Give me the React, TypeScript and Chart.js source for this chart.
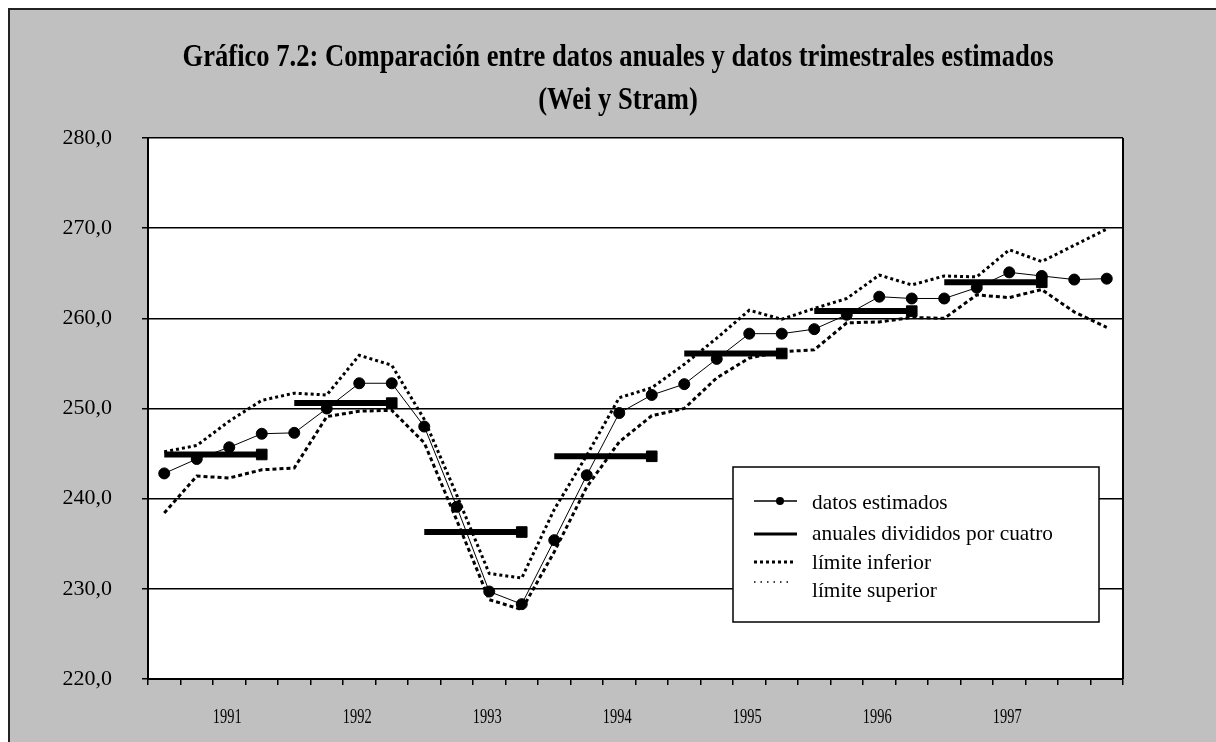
import { useEffect, useRef } from 'react';
import { Chart, registerables } from 'chart.js';

Chart.register(...registerables);

// ---- Data ----
const categories = [
  '1991-I', '1991-II', '1991-III', '1991-IV',
  '1992-I', '1992-II', '1992-III', '1992-IV',
  '1993-I', '1993-II', '1993-III', '1993-IV',
  '1994-I', '1994-II', '1994-III', '1994-IV',
  '1995-I', '1995-II', '1995-III', '1995-IV',
  '1996-I', '1996-II', '1996-III', '1996-IV',
  '1997-I', '1997-II', '1997-III', '1997-IV',
  '1998-I', '1998-II',
];

const yearTickLabels = ['1991', '1992', '1993', '1994', '1995', '1996', '1997'];

const estimated = [
  242.8, 244.4, 245.7, 247.2,
  247.3, 250.0, 252.8, 252.8,
  248.0, 239.1, 229.7, 228.3,
  235.4, 242.6, 249.5, 251.5,
  252.7, 255.5, 258.3, 258.3,
  258.8, 260.4, 262.4, 262.2,
  262.2, 263.4, 265.1, 264.7,
  264.3, 264.4,
];

const annualDividedByFour = [244.9, 250.6, 236.3, 244.7, 256.1, 260.8, 264.0];

const lowerLimit = [
  238.4, 242.5, 242.3, 243.2,
  243.4, 249.1, 249.7, 249.8,
  246.2, 237.6, 228.8, 227.7,
  234.1, 241.3, 246.3, 249.2,
  250.0, 253.4, 255.6, 256.3,
  256.5, 259.5, 259.6, 260.1,
  260.0, 262.6, 262.3, 263.2,
  260.7, 259.0,
];

const upperLimit = [
  245.2, 245.9, 248.6, 250.9,
  251.7, 251.5, 255.9, 254.8,
  248.8, 240.4, 231.7, 231.2,
  238.8, 244.8, 251.2, 252.3,
  254.9, 257.8, 260.9, 259.9,
  261.1, 262.2, 264.8, 263.7,
  264.7, 264.6, 267.6, 266.3,
  268.1, 269.9,
];

const titleLines = [
  'Gráfico 7.2: Comparación entre datos anuales y datos trimestrales estimados',
  '(Wei y Stram)',
];

const legendLabels = [
  'datos estimados',
  'anuales divididos por cuatro',
  'límite inferior',
  'límite superior',
];

const Y_MIN = 220;
const Y_MAX = 280;
const Y_STEP = 10;

const SERIF = '"Liberation Serif", "Times New Roman", serif';

const annualSeries = categories.map((_, i) => {
  const v = annualDividedByFour[Math.floor(i / 4)];
  return v === undefined ? null : v;
});

const yearLabelFor = (index: number) =>
  index % 4 === 2 ? (yearTickLabels[Math.floor(index / 4)] ?? '') : '';

const decorPlugin = {
  id: 'decor',
  beforeDraw(chart: any) {
    const { ctx, chartArea: a } = chart;
    ctx.save();
    ctx.fillStyle = '#c0c0c0';
    ctx.fillRect(0, 0, chart.width, chart.height);
    ctx.fillStyle = '#ffffff';
    ctx.fillRect(a.left, a.top, a.right - a.left, a.bottom - a.top);
    ctx.restore();
  },
  afterDraw(chart: any) {
    const { ctx, chartArea: a } = chart;
    ctx.save();
    // right border of plot
    ctx.strokeStyle = '#000';
    ctx.lineWidth = 2;
    ctx.beginPath();
    ctx.moveTo(a.right, a.top);
    ctx.lineTo(a.right, a.bottom);
    ctx.stroke();

    // x-axis year labels (condensed serif), placed via the category scale
    const xs = chart.scales.x;
    ctx.fillStyle = '#000';
    ctx.font = `20px ${SERIF}`;
    ctx.textAlign = 'center';
    ctx.textBaseline = 'middle';
    categories.forEach((_, i) => {
      const t = yearLabelFor(i);
      if (!t) return;
      const px = xs.getPixelForValue(i);
      ctx.save();
      ctx.translate(px - 2, a.bottom + 39);
      ctx.scale(0.72, 1);
      ctx.fillText(t, 0, 0);
      ctx.restore();
    });

    // title (condensed bold serif)
    ctx.font = `bold 31px ${SERIF}`;
    ctx.textAlign = 'center';
    ctx.textBaseline = 'alphabetic';
    const w1 = ctx.measureText(titleLines[0]).width;
    const sx = 871 / w1;
    const cx = 608;
    [56, 99].forEach((y, i) => {
      ctx.save();
      ctx.translate(cx, y);
      ctx.scale(sx, 1);
      ctx.fillText(titleLines[i], 0, 0);
      ctx.restore();
    });

    // legend box
    const bx = 723, by = 457, bw = 366, bh = 155;
    ctx.fillStyle = '#fff';
    ctx.fillRect(bx, by, bw, bh);
    ctx.strokeStyle = '#000';
    ctx.lineWidth = 1.5;
    ctx.strokeRect(bx, by, bw, bh);

    const sx0 = 744, sx1 = 787, tx = 802;
    const rows = [493, 524, 553, 581];
    const sampleY = [491, 524, 552, 572];

    ctx.lineWidth = 1.5;
    ctx.beginPath();
    ctx.moveTo(sx0, sampleY[0]);
    ctx.lineTo(sx1, sampleY[0]);
    ctx.stroke();
    ctx.fillStyle = '#000';
    ctx.beginPath();
    ctx.arc(770, sampleY[0], 4, 0, Math.PI * 2);
    ctx.fill();

    ctx.lineWidth = 3;
    ctx.beginPath();
    ctx.moveTo(sx0, sampleY[1]);
    ctx.lineTo(sx1, sampleY[1]);
    ctx.stroke();

    ctx.lineWidth = 3;
    ctx.setLineDash([3, 3]);
    ctx.beginPath();
    ctx.moveTo(sx0, sampleY[2]);
    ctx.lineTo(sx1 - 4, sampleY[2]);
    ctx.stroke();

    ctx.lineWidth = 1.5;
    ctx.setLineDash([1.5, 5]);
    ctx.beginPath();
    ctx.moveTo(sx0, sampleY[3]);
    ctx.lineTo(sx1 - 4, sampleY[3]);
    ctx.stroke();
    ctx.setLineDash([]);

    ctx.font = `22px ${SERIF}`;
    ctx.textAlign = 'left';
    ctx.textBaseline = 'middle';
    const lw = ctx.measureText(legendLabels[1]).width;
    const lsx = 241 / lw;
    legendLabels.forEach((t, i) => {
      ctx.save();
      ctx.translate(tx, rows[i]);
      ctx.scale(lsx, 1);
      ctx.fillText(t, 0, 0);
      ctx.restore();
    });
    ctx.restore();
  },
};

export default function App() {
  const ref = useRef<HTMLCanvasElement | null>(null);

  useEffect(() => {
    if (!ref.current) return;
    const chart = new Chart(ref.current, {
      type: 'line',
      data: {
        labels: categories,
        datasets: [
          {
            label: legendLabels[0],
            data: estimated,
            borderColor: '#000',
            backgroundColor: '#000',
            borderWidth: 1,
            pointStyle: 'circle',
            pointRadius: 5.5,
            pointBorderWidth: 1,
            pointBackgroundColor: '#000',
            pointBorderColor: '#000',
            tension: 0,
          },
          {
            label: legendLabels[1],
            data: annualSeries,
            borderColor: '#000',
            backgroundColor: '#000',
            borderWidth: 6,
            borderCapStyle: 'butt',
            pointStyle: 'rect',
            pointRadius: (c: any) => (c.dataIndex % 4 === 3 ? 7.5 : 0),
            pointBorderWidth: 1,
            pointBackgroundColor: '#000',
            pointBorderColor: '#000',
            spanGaps: false,
            segment: {
              borderColor: (c: any) => (c.p0DataIndex % 4 === 3 ? 'rgba(0,0,0,0)' : '#000'),
            },
            tension: 0,
          },
          {
            label: legendLabels[2],
            data: lowerLimit,
            borderColor: '#000',
            borderWidth: 3,
            borderDash: [4, 3],
            borderCapStyle: 'butt',
            pointRadius: 0,
            tension: 0,
          },
          {
            label: legendLabels[3],
            data: upperLimit,
            borderColor: '#000',
            borderWidth: 3,
            borderDash: [3, 3],
            borderCapStyle: 'butt',
            pointRadius: 0,
            tension: 0,
          },
        ],
      },
      options: {
        responsive: false,
        animation: false,
        devicePixelRatio: 1,
        layout: { padding: { top: 128, right: 93, left: 0, bottom: 0 } },
        plugins: {
          legend: { display: false },
          title: { display: false },
          tooltip: { enabled: false },
        },
        events: [],
        scales: {
          x: {
            type: 'category',
            offset: true,
            afterFit: (s: any) => { s.height = 63; },
            grid: {
              display: true,
              offset: true,
              drawOnChartArea: false,
              drawTicks: true,
              tickLength: 6,
              color: '#000',
              lineWidth: 1.5,
            },
            border: { display: true, color: '#000', width: 2 },
            ticks: {
              autoSkip: false,
              maxRotation: 0,
              minRotation: 0,
              padding: 24,
              color: 'rgba(0,0,0,0)',
              font: { family: SERIF, size: 15 },
              callback: (_v: any, index: number) => yearLabelFor(index),
            },
          },
          y: {
            min: Y_MIN,
            max: Y_MAX,
            afterFit: (s: any) => { s.width = 138; },
            grid: {
              color: '#000',
              lineWidth: 1.5,
              drawTicks: true,
              tickLength: 6,
            },
            border: { display: true, color: '#000', width: 2 },
            ticks: {
              stepSize: Y_STEP,
              padding: 30,
              color: '#000',
              font: { family: SERIF, size: 22 },
              callback: (v: any) => Number(v).toFixed(1).replace('.', ','),
            },
          },
        },
      },
      plugins: [decorPlugin],
    } as any);
    return () => chart.destroy();
  }, []);

  return (
    <div
      style={{
        position: 'fixed',
        left: 8,
        top: 8,
        width: 1208,
        height: 734,
        boxSizing: 'border-box',
        borderLeft: '2px solid #222',
        borderTop: '2px solid #222',
        background: '#c0c0c0',
        overflow: 'hidden',
      }}
    >
      <canvas ref={ref} width={1206} height={732} style={{ display: 'block' }} />
    </div>
  );
}
